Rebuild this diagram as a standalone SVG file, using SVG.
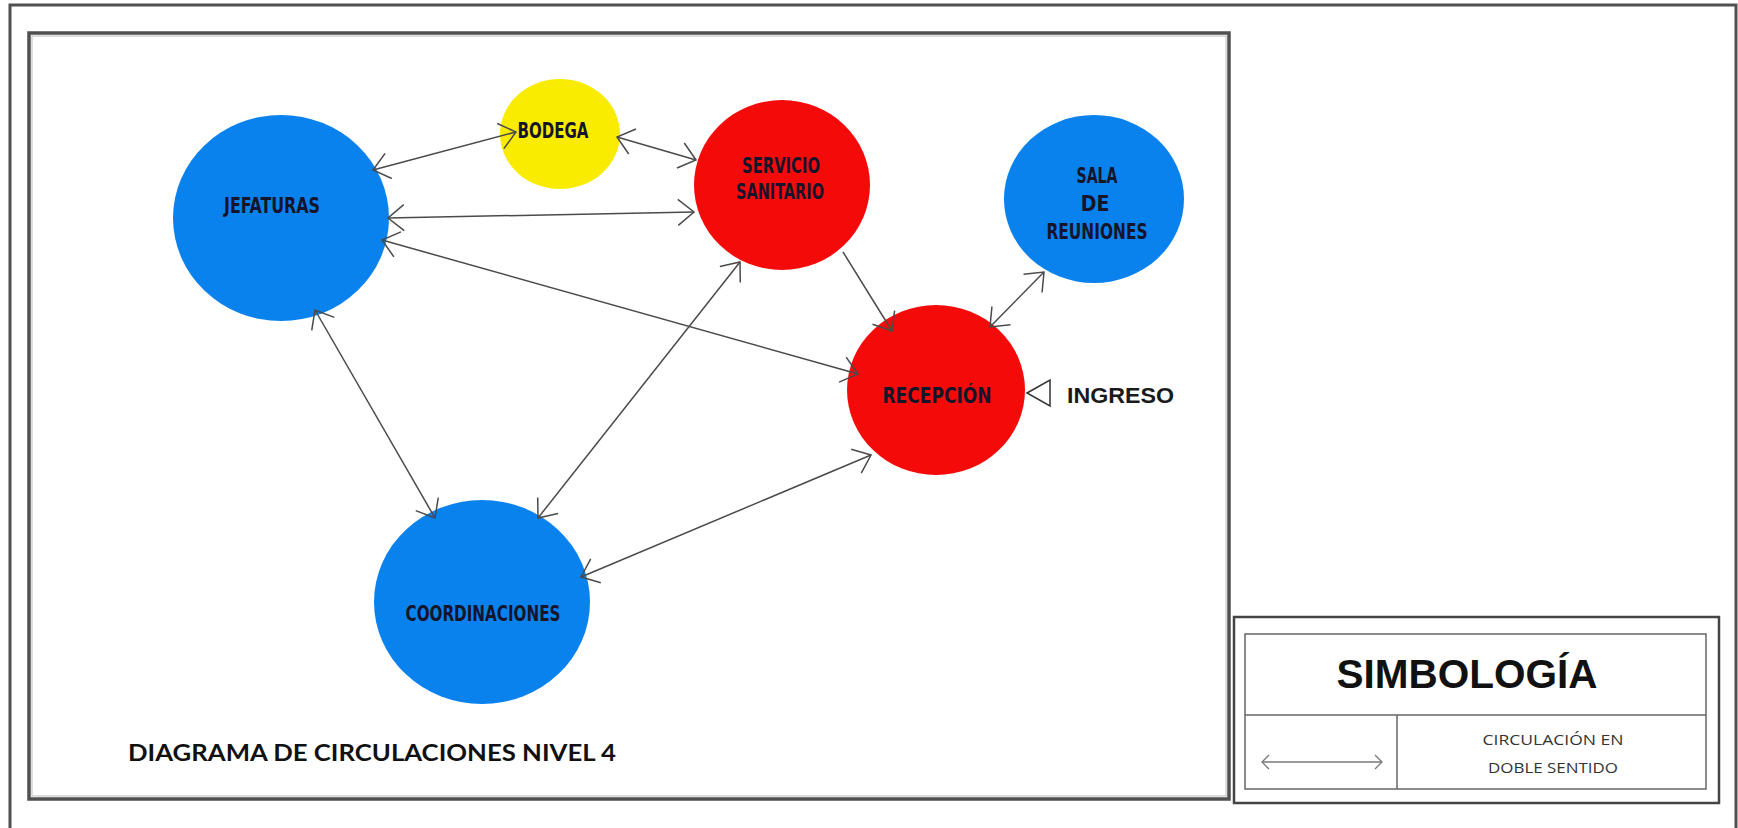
<svg xmlns="http://www.w3.org/2000/svg" width="1738" height="828" viewBox="0 0 1738 828">
<style>
.blue{fill:#0a82ee}
.red{fill:#f50a0a}
.yel{fill:#f9ec00}
.lbl{font-family:"Liberation Sans Narrow","DejaVu Sans Condensed","Liberation Sans",sans-serif;font-weight:bold;font-size:21px;fill:#14142a;text-anchor:middle}
.con{stroke:#4a4a4a;stroke-width:1.5;fill:none;marker-start:url(#ah);marker-end:url(#ah)}
.one{stroke:#4a4a4a;stroke-width:1.5;fill:none;marker-end:url(#ah)}
.frame{fill:none;stroke:#505050}
</style>
<defs>
<marker id="ah" viewBox="-20 -20 40 40" markerWidth="40" markerHeight="40" refX="0" refY="0" markerUnits="userSpaceOnUse" orient="auto-start-reverse">
<path d="M-16,-13 L0,0 L-16,13" fill="none" stroke="#4a4a4a" stroke-width="1.5"/>
</marker>
<marker id="sm" viewBox="-10 -10 20 20" markerWidth="20" markerHeight="20" refX="0" refY="0" markerUnits="userSpaceOnUse" orient="auto-start-reverse">
<path d="M-7,-7 L0,0 L-7,7" fill="none" stroke="#777" stroke-width="1.3"/>
</marker>
</defs>
<rect width="1738" height="828" fill="#fff"/>
<rect class="frame" x="10" y="5" width="1726" height="840" stroke-width="3"/>
<rect class="frame" x="29" y="33" width="1200" height="766" stroke-width="3.5"/>
<rect x="32" y="36" width="1194" height="760" fill="none" stroke="#bbb" stroke-width="1"/>

<g id="jefaturas">
<ellipse class="blue" cx="281" cy="218" rx="108" ry="103"/>
<text class="lbl" x="272" y="213" textLength="96" lengthAdjust="spacingAndGlyphs">JEFATURAS</text>
</g>
<g id="bodega">
<ellipse class="yel" cx="560" cy="134" rx="60" ry="55"/>
<text class="lbl" x="553" y="138" textLength="71" lengthAdjust="spacingAndGlyphs">BODEGA</text>
</g>
<g id="servicio-sanitario">
<ellipse class="red" cx="782" cy="185" rx="88" ry="85"/>
<text class="lbl" x="781" y="173" textLength="78" lengthAdjust="spacingAndGlyphs">SERVICIO</text>
<text class="lbl" x="780" y="199" textLength="88" lengthAdjust="spacingAndGlyphs">SANITARIO</text>
</g>
<g id="sala-de-reuniones">
<ellipse class="blue" cx="1094" cy="199" rx="90" ry="84"/>
<text class="lbl" x="1097" y="183" textLength="41" lengthAdjust="spacingAndGlyphs">SALA</text>
<text class="lbl" x="1095" y="211">DE</text>
<text class="lbl" x="1097" y="239" textLength="101" lengthAdjust="spacingAndGlyphs">REUNIONES</text>
</g>
<g id="recepcion">
<ellipse class="red" cx="936" cy="390" rx="89" ry="85"/>
<text class="lbl" x="937" y="403" textLength="109" lengthAdjust="spacingAndGlyphs">RECEPCIÓN</text>
</g>
<g id="coordinaciones">
<ellipse class="blue" cx="482" cy="602" rx="108" ry="102"/>
<text class="lbl" x="483" y="621" textLength="155" lengthAdjust="spacingAndGlyphs">COORDINACIONES</text>
</g>

<g id="connectors">
<line class="con" x1="373" y1="170" x2="516" y2="132"/>
<line class="con" x1="388" y1="218" x2="694" y2="212"/>
<line class="con" x1="382" y1="240" x2="858" y2="374"/>
<line class="con" x1="617" y1="137" x2="696" y2="160"/>
<line class="one" x1="843" y1="252" x2="892" y2="331"/>
<line class="con" x1="740" y1="262" x2="538" y2="518"/>
<line class="con" x1="315" y1="310" x2="435" y2="518"/>
<line class="con" x1="871" y1="455" x2="581" y2="577"/>
<line class="con" x1="990" y1="327" x2="1044" y2="272"/>
</g>

<g id="ingreso">
<path d="M1027,393 L1050,380 L1050,406 Z" fill="#fff" stroke="#333" stroke-width="1.5"/>
<text x="1067" y="403" font-family="Liberation Sans, Arial, sans-serif" font-weight="bold" font-size="22" fill="#1a1a1a" textLength="107" lengthAdjust="spacingAndGlyphs">INGRESO</text>
</g>

<text x="128" y="761" font-family="Lato, 'Open Sans', sans-serif" font-weight="bold" font-size="22" fill="#111" textLength="488" lengthAdjust="spacingAndGlyphs">DIAGRAMA DE CIRCULACIONES NIVEL 4</text>

<g id="simbologia">
<rect x="1234" y="617" width="485" height="186" fill="none" stroke="#444" stroke-width="2.5"/>
<rect x="1245" y="634" width="461" height="155" fill="none" stroke="#666" stroke-width="1.5"/>
<line x1="1245" y1="715" x2="1706" y2="715" stroke="#666" stroke-width="1.5"/>
<line x1="1397" y1="715" x2="1397" y2="789" stroke="#666" stroke-width="1.5"/>
<text x="1467" y="688" font-family="Liberation Sans, Arial, sans-serif" font-weight="bold" font-size="40" fill="#111" text-anchor="middle" textLength="261" lengthAdjust="spacingAndGlyphs">SIMBOLOGÍA</text>
<line x1="1262" y1="762" x2="1382" y2="762" stroke="#777" stroke-width="1.3" marker-start="url(#sm)" marker-end="url(#sm)"/>
<text x="1553" y="745" font-family="'Open Sans', 'Liberation Sans', sans-serif" font-size="14" fill="#333" text-anchor="middle" textLength="141" lengthAdjust="spacingAndGlyphs">CIRCULACIÓN EN</text>
<text x="1553" y="773" font-family="'Open Sans', 'Liberation Sans', sans-serif" font-size="14" fill="#333" text-anchor="middle" textLength="130" lengthAdjust="spacingAndGlyphs">DOBLE SENTIDO</text>
</g>
</svg>
